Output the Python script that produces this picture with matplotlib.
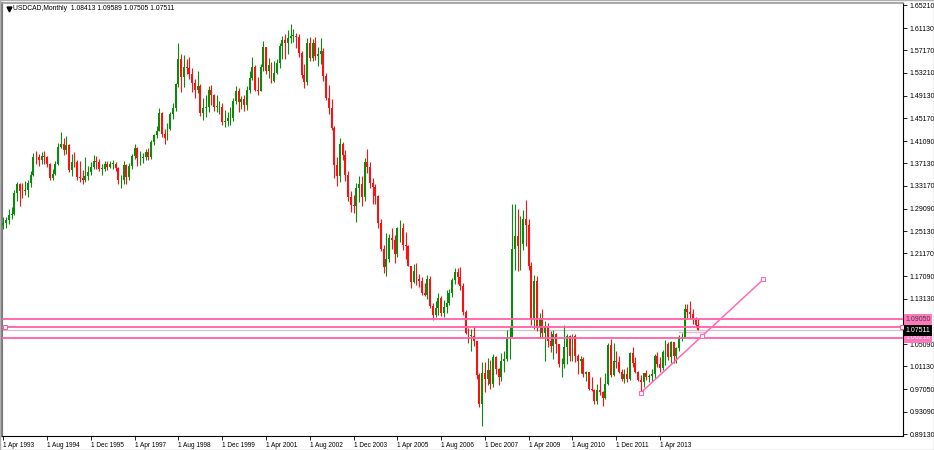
import matplotlib
matplotlib.use("Agg")
import matplotlib.pyplot as plt
import matplotlib.transforms as mtransforms
from matplotlib.patches import Rectangle
import numpy as np
import pandas as pd

plt.rcParams['font.family'] = ['Liberation Sans', 'DejaVu Sans']

symbol = "USDCAD,Monthly"
first_date = "1993-04-01"
first_open = 1.2620

# monthly closes, Apr 1993 .. Jun 2014
closes = [
    1.2660, 1.2700, 1.2800, 1.2810, 1.3190, 1.3340, 1.3230, 1.3220, 1.3240,                  # 1993
    1.3360, 1.3510, 1.3830, 1.3820, 1.3780, 1.3850, 1.3820, 1.3700, 1.3460, 1.3530, 1.3700, 1.4010,  # 1994
    1.4060, 1.3950, 1.4040, 1.3600, 1.3740, 1.3730, 1.3470, 1.3450, 1.3410, 1.3480, 1.3560, 1.3650,  # 1995
    1.3760, 1.3730, 1.3620, 1.3620, 1.3710, 1.3650, 1.3710, 1.3710, 1.3630, 1.3410, 1.3420, 1.3690,  # 1996
    1.3470, 1.3660, 1.3840, 1.3980, 1.3800, 1.3810, 1.3820, 1.3920, 1.3830, 1.4090, 1.4220, 1.4290,  # 1997
    1.4600, 1.4230, 1.4160, 1.4320, 1.4580, 1.4700, 1.5120, 1.5560, 1.5250, 1.5430, 1.5410, 1.5300,  # 1998
    1.5130, 1.5010, 1.5080, 1.4610, 1.4700, 1.4720, 1.5010, 1.4920, 1.4710, 1.4710, 1.4710, 1.4450,  # 1999
    1.4470, 1.4510, 1.4510, 1.4820, 1.4990, 1.4800, 1.4850, 1.4740, 1.5010, 1.5220, 1.5430, 1.5010,  # 2000
    1.5000, 1.5430, 1.5770, 1.5350, 1.5450, 1.5170, 1.5320, 1.5500, 1.5790, 1.5900, 1.5850, 1.5930,  # 2001
    1.5970, 1.5980, 1.5950, 1.5670, 1.5280, 1.5160, 1.5850, 1.5580, 1.5850, 1.5610, 1.5660, 1.5700,  # 2002
    1.5260, 1.4870, 1.4700, 1.4340, 1.3680, 1.3490, 1.4050, 1.3860, 1.3500, 1.3120, 1.2970, 1.2960,  # 2003
    1.3270, 1.3350, 1.3120, 1.3730, 1.3640, 1.3360, 1.3300, 1.3130, 1.2650, 1.2200, 1.1880, 1.2020,  # 2004
    1.2390, 1.2360, 1.2100, 1.2560, 1.2560, 1.2260, 1.2250, 1.1900, 1.1610, 1.1800, 1.1670, 1.1630,  # 2005
    1.1410, 1.1380, 1.1670, 1.1180, 1.1020, 1.1150, 1.1320, 1.1060, 1.1160, 1.1230, 1.1410, 1.1650,  # 2006
    1.1790, 1.1700, 1.1540, 1.1080, 1.0700, 1.0650, 1.0660, 1.0560, 0.9960, 0.9440, 0.9990, 0.9890,  # 2007
    1.0050, 0.9800, 1.0270, 1.0070, 0.9920, 1.0200, 1.0240, 1.0630, 1.0640, 1.2190, 1.2430, 1.2240,  # 2008
    1.2290, 1.2720, 1.2620, 1.1900, 1.0930, 1.1630, 1.0790, 1.0970, 1.0700, 1.0830, 1.0560, 1.0480,  # 2009
    1.0680, 1.0510, 1.0150, 1.0150, 1.0450, 1.0650, 1.0290, 1.0650, 1.0290, 1.0200, 1.0250, 0.9980,  # 2010
    1.0010, 0.9720, 0.9700, 0.9490, 0.9690, 0.9650, 0.9550, 0.9800, 1.0490, 0.9960, 1.0210, 1.0190,  # 2011
    1.0010, 0.9880, 0.9970, 0.9880, 1.0350, 1.0180, 1.0020, 0.9870, 0.9830, 0.9990, 0.9930, 0.9950,  # 2012
    0.9980, 1.0300, 1.0160, 1.0080, 1.0360, 1.0510, 1.0280, 1.0540, 1.0300, 1.0430, 1.0630, 1.0630,  # 2013
    1.1130, 1.1070, 1.1050, 1.0960, 1.0841, 1.07511,                                          # 2014
]

highs = [
    1.2760, 1.2770, 1.2900, 1.2930, 1.3240, 1.3390, 1.3360, 1.3370, 1.3400,
    1.3420, 1.3570, 1.3890, 1.3930, 1.3880, 1.3920, 1.3940, 1.3850, 1.3720, 1.3610, 1.3760, 1.4070,
    1.4270, 1.4170, 1.4190, 1.4060, 1.3870, 1.3910, 1.3780, 1.3760, 1.3600, 1.3820, 1.3670, 1.3730,
    1.3860, 1.3850, 1.3790, 1.3710, 1.3750, 1.3760, 1.3760, 1.3770, 1.3730, 1.3640, 1.3500, 1.3760,
    1.3700, 1.3720, 1.3880, 1.4050, 1.4000, 1.3940, 1.3900, 1.3960, 1.3980, 1.4130, 1.4240, 1.4370,
    1.4690, 1.4620, 1.4330, 1.4420, 1.4620, 1.4780, 1.5130, 1.5845, 1.5660, 1.5630, 1.5560, 1.5600,
    1.5400, 1.5200, 1.5350, 1.5120, 1.4880, 1.4930, 1.5080, 1.5100, 1.4950, 1.4930, 1.4810, 1.4790,
    1.4660, 1.4630, 1.4720, 1.4880, 1.5080, 1.5050, 1.4900, 1.4930, 1.5090, 1.5350, 1.5600, 1.5450,
    1.5240, 1.5470, 1.5880, 1.5780, 1.5580, 1.5510, 1.5520, 1.5560, 1.5850, 1.5970, 1.6000, 1.6070,
    1.6190, 1.6100, 1.6020, 1.6000, 1.5710, 1.5480, 1.5940, 1.5960, 1.5920, 1.5960, 1.5780, 1.5940,
    1.5760, 1.5320, 1.5100, 1.4860, 1.4380, 1.3820, 1.4160, 1.4100, 1.3950, 1.3580, 1.3230, 1.3150,
    1.3360, 1.3480, 1.3480, 1.3800, 1.3970, 1.3740, 1.3450, 1.3350, 1.3150, 1.2730, 1.2270, 1.2470,
    1.2460, 1.2560, 1.2450, 1.2590, 1.2710, 1.2650, 1.2500, 1.2260, 1.1900, 1.1920, 1.1940, 1.1750,
    1.1690, 1.1590, 1.1730, 1.1720, 1.1240, 1.1280, 1.1420, 1.1360, 1.1290, 1.1460, 1.1480, 1.1680,
    1.1850, 1.1860, 1.1880, 1.1590, 1.1120, 1.0790, 1.0780, 1.0820, 1.0560, 1.0000, 1.0190, 1.0190,
    1.0260, 1.0220, 1.0330, 1.0300, 1.0090, 1.0350, 1.0380, 1.0760, 1.0810, 1.2990, 1.2990, 1.2900,
    1.2780, 1.2880, 1.3060, 1.2730, 1.1960, 1.1740, 1.1720, 1.1060, 1.1130, 1.0920, 1.0890, 1.0740,
    1.0760, 1.0710, 1.0490, 1.0260, 1.0850, 1.0690, 1.0670, 1.0680, 1.0680, 1.0330, 1.0290, 1.0270,
    1.0030, 0.9990, 0.9930, 0.9720, 0.9800, 0.9930, 0.9670, 1.0000, 1.0520, 1.0600, 1.0520, 1.0380,
    1.0290, 1.0060, 1.0060, 1.0110, 1.0370, 1.0450, 1.0270, 1.0030, 0.9960, 1.0000, 1.0050, 0.9980,
    1.0060, 1.0340, 1.0360, 1.0270, 1.0400, 1.0580, 1.0540, 1.0560, 1.0540, 1.0450, 1.0670, 1.0700,
    1.1220, 1.1220, 1.1280, 1.1130, 1.0990, 1.09589,
]

lows = [
    1.2540, 1.2560, 1.2640, 1.2730, 1.2800, 1.3050, 1.2950, 1.3090, 1.3150,
    1.3120, 1.3300, 1.3480, 1.3700, 1.3660, 1.3710, 1.3710, 1.3650, 1.3420, 1.3420, 1.3510, 1.3680,
    1.3980, 1.3860, 1.3870, 1.3560, 1.3480, 1.3650, 1.3410, 1.3390, 1.3340, 1.3380, 1.3420, 1.3500,
    1.3610, 1.3620, 1.3580, 1.3510, 1.3570, 1.3600, 1.3630, 1.3620, 1.3580, 1.3350, 1.3280, 1.3340,
    1.3350, 1.3420, 1.3610, 1.3790, 1.3670, 1.3690, 1.3720, 1.3780, 1.3780, 1.3790, 1.4030, 1.4170,
    1.4280, 1.4180, 1.4060, 1.4120, 1.4300, 1.4500, 1.4650, 1.5070, 1.4980, 1.5060, 1.5300, 1.5200,
    1.4980, 1.4880, 1.4960, 1.4560, 1.4480, 1.4530, 1.4620, 1.4750, 1.4640, 1.4620, 1.4580, 1.4390,
    1.4350, 1.4380, 1.4400, 1.4470, 1.4770, 1.4630, 1.4680, 1.4640, 1.4660, 1.4960, 1.5190, 1.4990,
    1.4930, 1.5000, 1.5350, 1.5290, 1.5230, 1.5130, 1.5150, 1.5300, 1.5400, 1.5570, 1.5560, 1.5650,
    1.5840, 1.5860, 1.5760, 1.5600, 1.5220, 1.5050, 1.5100, 1.5530, 1.5520, 1.5550, 1.5440, 1.5480,
    1.5170, 1.4830, 1.4580, 1.4300, 1.3450, 1.3310, 1.3390, 1.3770, 1.3400, 1.3050, 1.2850, 1.2840,
    1.2680, 1.3020, 1.2960, 1.3050, 1.3540, 1.3280, 1.3000, 1.2990, 1.2570, 1.2160, 1.1760, 1.1710,
    1.1960, 1.2200, 1.1950, 1.2060, 1.2320, 1.2170, 1.2010, 1.1890, 1.1500, 1.1590, 1.1560, 1.1520,
    1.1380, 1.1360, 1.1310, 1.1150, 1.0930, 1.0990, 1.1020, 1.1000, 1.0980, 1.1060, 1.1200, 1.1340,
    1.1580, 1.1580, 1.1470, 1.1030, 1.0690, 1.0520, 1.0380, 1.0480, 0.9880, 0.9400, 0.9060, 0.9650,
    0.9790, 0.9720, 0.9740, 0.9980, 0.9790, 0.9850, 1.0010, 1.0200, 1.0250, 1.0640, 1.1820, 1.1800,
    1.1820, 1.2170, 1.2250, 1.1830, 1.0840, 1.0780, 1.0740, 1.0620, 1.0640, 1.0210, 1.0450, 1.0370,
    1.0250, 1.0350, 1.0110, 0.9930, 1.0080, 1.0150, 1.0210, 1.0200, 1.0190, 0.9980, 1.0000, 0.9930,
    0.9850, 0.9700, 0.9670, 0.9450, 0.9450, 0.9610, 0.9410, 0.9530, 0.9780, 0.9920, 0.9940, 1.0090,
    0.9990, 0.9850, 0.9820, 0.9830, 0.9870, 1.0100, 0.9990, 0.9860, 0.9630, 0.9740, 0.9870, 0.9840,
    0.9840, 0.9900, 1.0100, 1.0010, 1.0050, 1.0140, 1.0230, 1.0180, 1.0180, 1.0180, 1.0380, 1.0560,
    1.0610, 1.0950, 1.0960, 1.0860, 1.0810, 1.07505,
]

header_values = ["1.08413", "1.09589", "1.07505", "1.07511"]

y_ticks = [1.65210, 1.61130, 1.57170, 1.53210, 1.49130, 1.45170, 1.41090, 1.37130, 1.33170,
           1.29090, 1.25130, 1.21170, 1.17090, 1.13130, 1.09050, 1.05090, 1.01130, 0.97050,
           0.93090, 0.89130]

# drawn objects
h_levels = [1.0947, 1.0816, 1.06218]
h_labels = ["1.09050", None, "1.06218"]
bid_price = 1.07511
trend_bars = [233.0, 277.8]
trend_prices = [0.9646, 1.1657]

# ---------------------------------------------------------------
closes = np.array(closes)
highs = np.array(highs)
lows = np.array(lows)
opens = np.concatenate([[first_open], closes[:-1]])
n = len(closes)
x = np.arange(n)
dates = pd.date_range(first_date, periods=n, freq="MS")

W, H = 934, 450
fig = plt.figure(figsize=(W / 100, H / 100), dpi=100)
ax = fig.add_axes([2 / W, 14 / H, 901 / W, 433 / H])
ax.set_xlim(-0.48, 328.8)
ax.set_ylim(0.88778, 1.65565)

up = closes >= opens
green = '#0b8a0b'
red = '#ff1010'
cols = np.where(up, green, red)

ax.vlines(x, lows, highs, colors=cols, linewidth=0.8, zorder=2)
body_lo = np.minimum(opens, closes)
body_h = np.maximum(np.abs(closes - opens), 0.0012)
ax.bar(x, body_h, bottom=body_lo, width=0.7, color=cols, linewidth=0, zorder=3)

# horizontal levels
pink = '#ff5fa8'
for lv in h_levels:
    ax.axhline(lv, color=pink, linewidth=1.3, zorder=4)
ax.axhline(bid_price, color='#c8c8c8', linewidth=0.9, zorder=1)
ax.plot([247, 256], [1.0722, 1.0722], color='#ffb0cc', linewidth=1.0, zorder=1)
ax.plot([0.6, 328.5], [h_levels[1], h_levels[1]], linestyle='none', marker='s',
        markersize=3.2, markerfacecolor='white', markeredgecolor=pink,
        markeredgewidth=0.8, zorder=6, clip_on=False)

# trend line
tx = np.array(trend_bars)
ty = np.array(trend_prices)
ax.plot(tx, ty, color='#ff6ab8', linewidth=1.1, zorder=5)
ax.plot([tx[0], tx.mean(), tx[1]], [ty[0], ty.mean(), ty[1]], linestyle='none',
        marker='s', markersize=3.2, markerfacecolor='white', markeredgecolor='#ff6ab8',
        markeredgewidth=0.8, zorder=6)

# axes / ticks (the 1.09050 tick text is covered by the level label box)
ax.yaxis.tick_right()
ax.set_yticks(y_ticks)
ax.set_yticklabels(["" if f"{v:.5f}" in h_labels else f"{v:.5f}" for v in y_ticks])
tick_pos = x[::16]
ax.set_xticks(tick_pos)
ax.set_xticklabels([f"{d.day} {d.strftime('%b %Y')}" for d in dates[::16]])
for lab in ax.get_xticklabels():
    lab.set_horizontalalignment('left')
ax.tick_params(axis='y', direction='out', length=3, width=0.6, pad=2, labelsize=5.0, colors='black')
ax.tick_params(axis='x', direction='out', length=3, width=0.6, pad=1.5, labelsize=4.7, colors='black')

ax.spines['left'].set_color('#7a7a7a')
ax.spines['left'].set_linewidth(1.6)
ax.spines['top'].set_color('#9a9a9a')
ax.spines['top'].set_linewidth(1.2)
ax.spines['right'].set_color('black')
ax.spines['right'].set_linewidth(0.8)
ax.spines['bottom'].set_color('black')
ax.spines['bottom'].set_linewidth(0.8)

# price labels on the right axis
trans = mtransforms.blended_transform_factory(ax.transAxes, ax.transData)
label_boxes = [(h_levels[0], h_labels[0], '#ff78bc', '#404040'),
               (h_levels[2], h_labels[2], '#ff78bc', '#ffe6f2'),
               (bid_price, f"{bid_price:.5f}", 'black', 'white')]
for yv, txt, fc, tc in label_boxes:
    ax.text(1.0025, yv, txt, transform=trans, ha='left', va='center', fontsize=5.0,
            color=tc, clip_on=False, zorder=10,
            bbox=dict(boxstyle='square,pad=0.25', fc=fc, ec='none'))

# header
ax.plot([0.0075], [0.985], marker='v', color='black', markersize=3.5,
        transform=ax.transAxes, clip_on=False)
fig.text(13 / W, 1 - 9 / H, f"{symbol}  " + " ".join(header_values),
         ha='left', va='center', fontsize=4.9, color='black')

# outer window border
fig.patches.append(Rectangle((0, 0), 1, 1, transform=fig.transFigure, fill=False,
                             edgecolor='#b0b0b0', linewidth=1.0))

fig.savefig("out.png", dpi=100)
